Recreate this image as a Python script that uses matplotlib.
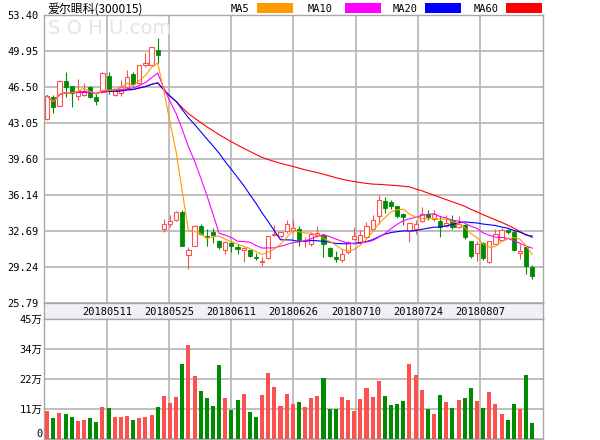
import numpy as np
import pandas as pd
import matplotlib
matplotlib.use('Agg')
import matplotlib.pyplot as plt
from matplotlib.patches import Rectangle
from matplotlib.transforms import blended_transform_factory

# ---------------- data ----------------
title = '爱尔眼科(300015)'
date_labels = ['20180511', '20180525', '20180611', '20180626', '20180710', '20180724', '20180807']
date_tick_pos = [9.8, 19.9, 30.0, 40.1, 50.3, 60.4, 70.5]
price_ticks = [25.79, 29.24, 32.69, 36.14, 39.60, 43.05, 46.50, 49.95, 53.40]
price_tick_labels = ['25.79', '29.24', '32.69', '36.14', '39.60', '43.05', '46.50', '49.95', '53.40']
vol_ticks = [0, 11.25, 22.5, 33.75, 45]
vol_tick_labels = ['0', '11万', '22万', '34万', '45万']

opens = [43.36, 45.54, 44.65, 47.05, 46.57, 45.61, 45.67, 46.50, 45.54, 46.03,
         47.53, 45.67, 45.93, 46.50, 47.72, 46.83, 48.59, 48.59, 50.03, 32.88,
         33.36, 33.68, 34.48, 30.38, 31.27, 33.10, 32.20, 32.55, 31.69, 30.89,
         31.50, 31.11, 30.86, 30.86, 30.15, 29.67, 30.09, 32.24, 32.14, 32.65,
         32.78, 32.88, 31.66, 31.43, 32.24, 32.30, 31.05, 30.15, 29.90, 30.63,
         31.92, 31.60, 32.07, 32.88, 34.06, 35.50, 35.40, 35.06, 34.30, 32.70,
         32.88, 33.62, 34.26, 33.84, 33.62, 33.10, 33.68, 33.04, 33.20, 31.69,
         30.54, 31.50, 29.67, 31.43, 31.76, 32.72, 32.56, 30.54, 31.11, 29.19]
highs = [45.70, 45.70, 47.15, 47.95, 46.60, 47.21, 46.82, 46.60, 45.86, 47.90,
         47.95, 46.30, 47.15, 48.10, 47.95, 48.60, 49.71, 50.35, 51.15, 33.84,
         34.16, 34.58, 34.64, 31.11, 33.20, 33.36, 32.90, 32.97, 31.82, 31.75,
         31.60, 31.43, 31.11, 30.86, 30.54, 30.15, 32.14, 33.20, 32.60, 33.68,
         33.68, 33.10, 32.07, 32.56, 33.10, 32.40, 31.11, 30.79, 30.95, 31.69,
         33.04, 32.72, 33.52, 34.16, 36.08, 35.90, 35.67, 35.10, 34.40, 33.42,
         33.68, 34.96, 34.64, 34.64, 34.06, 34.16, 34.16, 34.06, 33.30, 31.75,
         31.75, 31.60, 31.75, 32.88, 32.97, 32.88, 32.78, 31.43, 31.27, 29.45]
lows = [43.30, 44.00, 44.60, 45.48, 44.52, 45.22, 45.60, 45.40, 44.71, 45.90,
        45.80, 45.60, 45.60, 46.35, 46.55, 46.75, 48.43, 48.50, 48.75, 32.56,
        33.04, 33.61, 31.27, 29.03, 31.20, 32.24, 31.20, 31.50, 30.95, 30.47,
        30.63, 30.47, 29.67, 30.15, 29.90, 29.35, 29.99, 32.14, 32.00, 32.50,
        32.56, 31.27, 31.11, 31.27, 32.07, 30.15, 30.15, 29.67, 29.67, 30.47,
        31.76, 31.43, 31.92, 32.78, 33.36, 34.40, 34.80, 33.90, 33.20, 31.60,
        32.40, 33.52, 33.74, 33.62, 32.08, 33.04, 32.88, 32.97, 31.92, 30.09,
        29.77, 29.90, 29.60, 31.37, 31.69, 32.40, 30.79, 29.99, 28.55, 28.07]
closes = [45.61, 44.52, 47.08, 46.50, 45.93, 46.12, 46.09, 45.54, 45.16, 47.85,
          46.19, 46.19, 46.44, 47.47, 46.76, 48.53, 48.75, 50.26, 49.55, 33.36,
          33.58, 34.48, 31.27, 30.86, 33.10, 32.40, 32.05, 32.24, 31.11, 31.60,
          31.21, 30.95, 31.02, 30.22, 30.06, 29.83, 32.14, 32.40, 32.56, 33.30,
          32.97, 31.76, 31.82, 32.40, 32.46, 31.37, 30.31, 29.99, 30.47, 31.60,
          32.14, 32.24, 33.10, 33.74, 35.67, 34.90, 35.10, 34.10, 34.00, 33.40,
          33.36, 34.32, 34.00, 34.26, 33.04, 33.42, 33.04, 33.30, 32.08, 30.31,
          31.37, 30.09, 31.69, 32.40, 32.72, 32.56, 30.86, 30.79, 29.35, 28.39]
volumes = [10.3, 7.8, 9.6, 9.2, 8.0, 6.5, 6.9, 7.7, 6.1, 11.8,
           11.4, 8.0, 8.0, 8.4, 6.9, 7.7, 8.0, 8.8, 11.8, 16.0,
           13.3, 15.6, 28.0, 35.1, 23.5, 17.8, 15.2, 12.1, 27.6, 15.2,
           10.7, 14.4, 16.7, 10.0, 8.0, 16.3, 24.6, 19.3, 12.1, 16.7,
           12.9, 13.7, 11.8, 15.2, 16.0, 22.7, 11.0, 11.0, 15.6, 14.4,
           10.3, 14.8, 18.9, 15.6, 21.6, 16.0, 12.5, 12.9, 14.0, 28.0,
           23.9, 18.1, 11.0, 9.2, 16.3, 13.7, 11.4, 14.4, 15.2, 18.9,
           14.0, 11.4, 17.5, 12.9, 9.2, 6.9, 12.9, 11.0, 23.9, 5.8]

ma_windows = [60, 20, 10, 5]
ma_names = ['MA60', 'MA20', 'MA10', 'MA5']
ma_colors = ['#ff0000', '#0000ff', '#ff00ff', '#ff9900']

# ---------------- style ----------------
UP = '#ff5050'
DOWN = '#008c00'
GRID = '#b4b4b4'
SPINE = '#a8a8a8'
NUMFONT = ['DejaVu Sans Mono', 'Noto Sans CJK SC']
plt.rcParams['font.family'] = ['Noto Sans CJK SC', 'DejaVu Sans']

W, H = 600, 440
fig = plt.figure(figsize=(6, 4.4), dpi=100)

def frac(left, top, right, bottom):
    return [left / W, 1 - bottom / H, (right - left) / W, (bottom - top) / H]

ax = fig.add_axes(frac(44, 14.7, 543, 302.7))
ax_s = fig.add_axes(frac(44, 302.7, 543, 319))
ax_v = fig.add_axes(frac(44, 319, 543, 438.5))

x = np.arange(len(closes))
o = np.array(opens); c = np.array(closes); h = np.array(highs); l = np.array(lows)
up = c >= o
xlim = (-0.52, 80.75)

for a in (ax, ax_s, ax_v):
    a.set_xlim(*xlim)
    for sp in a.spines.values():
        sp.set_color(SPINE)
        sp.set_linewidth(1.0)
    a.tick_params(length=0)

# main price panel
ax.set_ylim(25.79, 53.40)
ax.set_yticks(price_ticks)
ax.set_yticklabels(price_tick_labels, fontfamily=NUMFONT, fontsize=7.5)
ax.tick_params(axis='y', pad=4)
ax.set_xticks(date_tick_pos)
ax.set_xticklabels([])
ax.grid(True, color=GRID, linewidth=1.2, zorder=0)
ax.set_axisbelow(True)

ax.text(0.008, 0.952, 'S O H U.com', transform=ax.transAxes, fontsize=14,
        color='#e4e4e4', fontfamily='DejaVu Sans', va='center', ha='left', zorder=1)

bw = 0.68
body_lo = np.minimum(o, c)
body_hi = np.maximum(o, c)
# wicks
ax.vlines(x[~up], l[~up], h[~up], color=DOWN, linewidth=0.8, zorder=2)
ax.vlines(x[up], l[up], body_lo[up], color=UP, linewidth=0.8, zorder=2)
ax.vlines(x[up], body_hi[up], h[up], color=UP, linewidth=0.8, zorder=2)
# bodies
ax.bar(x[up], (body_hi - body_lo)[up], bottom=body_lo[up], width=bw,
       facecolor='white', edgecolor=UP, linewidth=0.8, zorder=3)
ax.bar(x[~up], (body_hi - body_lo)[~up], bottom=body_lo[~up], width=bw,
       facecolor=DOWN, edgecolor=DOWN, linewidth=0.6, zorder=3)

cs = pd.Series(closes)
for n, name, col in zip(ma_windows, ma_names, ma_colors):
    ma = cs.rolling(n, min_periods=1).mean()
    ax.plot(x, ma, color=col, linewidth=0.8, zorder=4)

# date strip
ax_s.set_facecolor('#f0f1f8')
ax_s.set_yticks([])
ax_s.set_xticks([])
tr = blended_transform_factory(ax_s.transData, ax_s.transAxes)
for pos, lab in zip(date_tick_pos, date_labels):
    ax_s.text(pos, 0.45, lab, transform=tr, ha='center', va='center',
              fontfamily=NUMFONT, fontsize=7.5, color='black')

# volume panel
ax_v.set_ylim(0, 45)
ax_v.set_yticks(vol_ticks)
ax_v.set_yticklabels(vol_tick_labels, fontfamily=NUMFONT, fontsize=7.5)
ax_v.tick_params(axis='y', pad=1)
ax_v.get_yticklabels()[0].set_verticalalignment('bottom')
ax_v.set_xticks(date_tick_pos)
ax_v.set_xticklabels([])
ax_v.grid(True, color=GRID, linewidth=1.2, zorder=0)
ax_v.set_axisbelow(True)
vcol = np.where(up, UP, DOWN)
ax_v.bar(x, volumes, width=0.66, color=vcol, linewidth=0, zorder=3)

# title and legend
fig.text(47 / W, 1 - 9 / H, title, fontsize=8.6, ha='left', va='center',
         fontfamily=['Noto Sans CJK SC', 'DejaVu Sans'])
leg_text_x = [231, 308, 393, 474]
leg_box_x = [257, 345, 425, 506]
for n, name, col in zip(ma_windows, ma_names, ma_colors):
    k = ['MA5', 'MA10', 'MA20', 'MA60'].index(name)
    fig.text(leg_text_x[k] / W, 1 - 9 / H, name, fontsize=7.5, ha='left', va='center',
             fontfamily='DejaVu Sans Mono')
    fig.add_artist(Rectangle((leg_box_x[k] / W, 1 - 13.5 / H), 36 / W, 10.5 / H,
                             transform=fig.transFigure, facecolor=col, edgecolor='none'))

fig.savefig('out.png', dpi=100)
